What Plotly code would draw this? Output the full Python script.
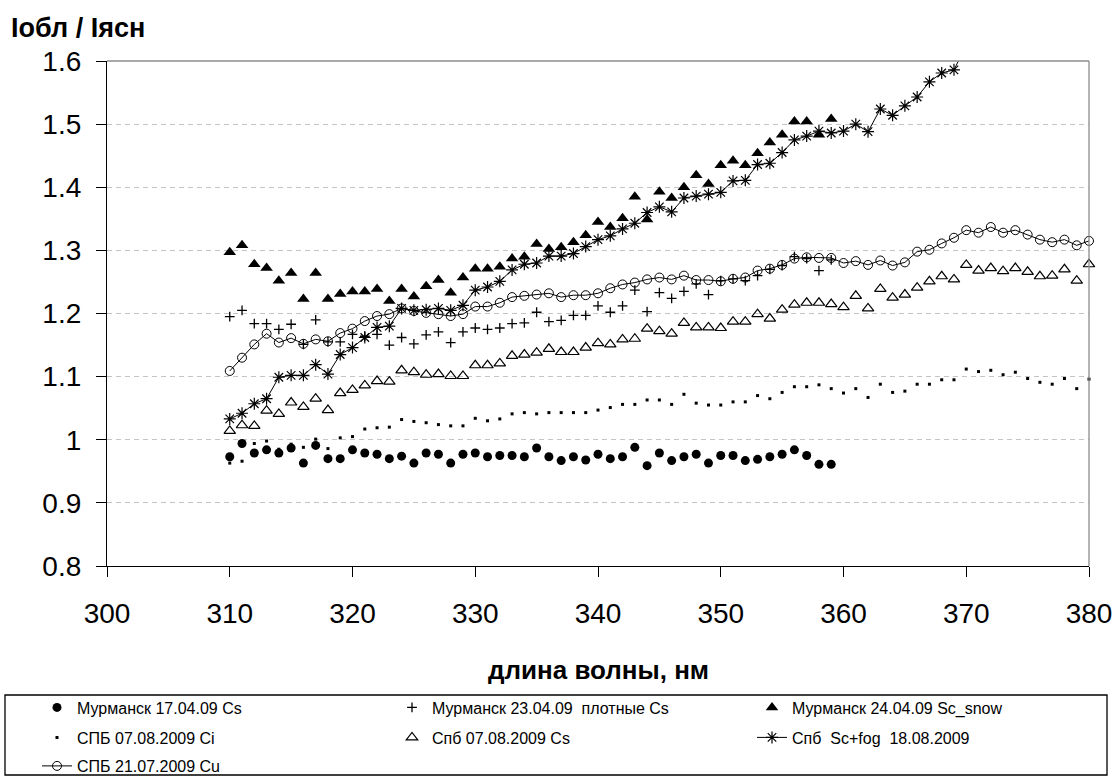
import plotly.graph_objects as go

# ---------------- data ----------------
wl_murm = [310, 311, 312, 313, 314, 315, 316, 317, 318, 319, 320, 321, 322, 323, 324,
           325, 326, 327, 328, 329, 330, 331, 332, 333, 334, 335, 336, 337, 338, 339,
           340, 341, 342, 343, 344, 345, 346, 347, 348, 349, 350, 351, 352, 353, 354,
           355, 356, 357, 358, 359]
wl_full = wl_murm + [360, 361, 362, 363, 364, 365, 366, 367, 368, 369, 370,
                     371, 372, 373, 374, 375, 376, 377, 378, 379, 380]
wl_fog = wl_murm + [360, 361, 362, 363, 364, 365, 366, 367, 368, 369, 370]

murm_1704_cs = [0.973, 0.994, 0.979, 0.984, 0.979, 0.987, 0.963, 0.991, 0.970, 0.970,
                0.984, 0.979, 0.977, 0.970, 0.974, 0.963, 0.979, 0.977, 0.963, 0.977,
                0.979, 0.973, 0.975, 0.975, 0.973, 0.987, 0.973, 0.967, 0.973, 0.968,
                0.977, 0.970, 0.973, 0.988, 0.959, 0.979, 0.967, 0.973, 0.977, 0.963,
                0.975, 0.975, 0.967, 0.969, 0.973, 0.977, 0.984, 0.975, 0.961, 0.961]

murm_2304_cs = [1.195, 1.205, 1.184, 1.184, 1.175, 1.183, 1.151, 1.190, 1.155, 1.155,
                1.167, 1.164, 1.167, 1.150, 1.162, 1.152, 1.166, 1.171, 1.154, 1.171,
                1.177, 1.175, 1.177, 1.184, 1.185, 1.202, 1.187, 1.189, 1.197, 1.197,
                1.212, 1.202, 1.212, 1.237, 1.203, 1.233, 1.224, 1.235, 1.247, 1.230,
                1.252, 1.255, 1.252, 1.260, 1.270, 1.276, 1.290, 1.287, 1.268, 1.285]

murm_2404_sc = [1.297, 1.308, 1.278, 1.272, 1.252, 1.264, 1.223, 1.264, 1.223, 1.231,
                1.235, 1.235, 1.239, 1.220, 1.239, 1.227, 1.243, 1.253, 1.233, 1.257,
                1.271, 1.271, 1.274, 1.287, 1.290, 1.310, 1.302, 1.305, 1.313, 1.324,
                1.345, 1.337, 1.351, 1.385, 1.349, 1.393, 1.383, 1.400, 1.419, 1.405,
                1.435, 1.442, 1.435, 1.454, 1.471, 1.483, 1.504, 1.504, 1.483, 1.508]

spb_0708_ci = [0.963, 0.966, 0.994, 0.998, 0.985, 0.993, 0.988, 1.001, 0.986, 1.003,
               1.005, 1.017, 1.019, 1.020, 1.032, 1.029, 1.027, 1.024, 1.022, 1.022,
               1.034, 1.030, 1.033, 1.041, 1.043, 1.041, 1.043, 1.043, 1.043, 1.043,
               1.047, 1.051, 1.056, 1.056, 1.063, 1.063, 1.056, 1.072, 1.058, 1.055,
               1.055, 1.060, 1.060, 1.070, 1.065, 1.075, 1.084, 1.084, 1.087, 1.081,
               1.074, 1.081, 1.067, 1.088, 1.075, 1.077, 1.088, 1.088, 1.095, 1.095,
               1.112, 1.108, 1.110, 1.103, 1.107, 1.097, 1.091, 1.088, 1.097, 1.081,
               1.096]

spb_0708_cs = [1.014, 1.023, 1.022, 1.046, 1.041, 1.059, 1.052, 1.065, 1.047, 1.074,
               1.079, 1.086, 1.093, 1.092, 1.110, 1.107, 1.103, 1.104, 1.101, 1.101,
               1.118, 1.118, 1.121, 1.133, 1.135, 1.138, 1.144, 1.139, 1.139, 1.146,
               1.153, 1.151, 1.159, 1.160, 1.176, 1.172, 1.168, 1.185, 1.178, 1.178,
               1.177, 1.187, 1.187, 1.199, 1.192, 1.206, 1.214, 1.217, 1.217, 1.215,
               1.210, 1.228, 1.208, 1.239, 1.225, 1.230, 1.241, 1.251, 1.259, 1.254,
               1.277, 1.268, 1.272, 1.267, 1.272, 1.266, 1.259, 1.260, 1.270, 1.252,
               1.278]

spb_1808_scfog = [1.033, 1.042, 1.057, 1.065, 1.099, 1.102, 1.102, 1.119, 1.104, 1.135,
                  1.146, 1.162, 1.178, 1.180, 1.208, 1.205, 1.206, 1.208, 1.205, 1.213,
                  1.237, 1.242, 1.251, 1.269, 1.278, 1.280, 1.291, 1.291, 1.295, 1.306,
                  1.317, 1.323, 1.334, 1.343, 1.360, 1.369, 1.361, 1.383, 1.386, 1.389,
                  1.392, 1.410, 1.411, 1.436, 1.438, 1.455, 1.475, 1.481, 1.489, 1.486,
                  1.489, 1.500, 1.488, 1.524, 1.514, 1.529, 1.543, 1.567, 1.581, 1.586,
                  1.625]

spb_2107_cu = [1.109, 1.130, 1.151, 1.168, 1.154, 1.161, 1.152, 1.159, 1.156, 1.169,
               1.176, 1.188, 1.196, 1.199, 1.208, 1.204, 1.201, 1.199, 1.196, 1.199,
               1.211, 1.211, 1.217, 1.226, 1.228, 1.230, 1.232, 1.226, 1.229, 1.229,
               1.232, 1.240, 1.246, 1.249, 1.254, 1.257, 1.254, 1.260, 1.253, 1.253,
               1.251, 1.255, 1.257, 1.268, 1.271, 1.277, 1.287, 1.289, 1.288, 1.288,
               1.280, 1.283, 1.277, 1.284, 1.276, 1.281, 1.298, 1.301, 1.311, 1.320,
               1.332, 1.328, 1.337, 1.328, 1.332, 1.325, 1.317, 1.313, 1.317, 1.308,
               1.315]

x_ticks = [300, 310, 320, 330, 340, 350, 360, 370, 380]
y_ticks = [0.8, 0.9, 1.0, 1.1, 1.2, 1.3, 1.4, 1.5, 1.6]
y_tick_labels = ["0.8", "0.9", "1", "1.1", "1.2", "1.3", "1.4", "1.5", "1.6"]

names = ["Мурманск 17.04.09 Cs", "Мурманск 23.04.09  плотные Cs",
         "Мурманск 24.04.09 Sc_snow", "СПБ 07.08.2009 Ci", "Спб 07.08.2009 Cs",
         "Спб  Sc+fog  18.08.2009", "СПБ 21.07.2009 Cu"]

FONT = "Arial, Liberation Sans, sans-serif"
BLACK = "#000000"

# page is 1115x776; the body margin is removed by a small post script
W, H = 1115, 776
# plot area in page pixels: left 107, right 1089, top 61, bottom 566
L, T = 107, 61
R = W - 1089
B = H - 566
pw, ph = W - L - R, H - T - B


def px_x(p):
    return (p - L) / pw


def px_y(p):
    return (H - B - p) / ph


fig = go.Figure()

fig.add_trace(go.Scatter(x=wl_murm, y=murm_1704_cs, mode="markers", name=names[0],
                         marker=dict(symbol="circle", size=9, color=BLACK),
                         legend="legend", cliponaxis=False))
fig.add_trace(go.Scatter(x=wl_murm, y=murm_2304_cs, mode="markers", name=names[1],
                         marker=dict(symbol="cross-thin", size=7,
                                     line=dict(color=BLACK, width=1.3)),
                         legend="legend2", cliponaxis=False))
fig.add_trace(go.Scatter(x=wl_murm, y=murm_2404_sc, mode="markers", name=names[2],
                         marker=dict(symbol="triangle-up", size=11, color=BLACK),
                         legend="legend3", cliponaxis=False))
fig.add_trace(go.Scatter(x=wl_full, y=spb_0708_ci, mode="markers", name=names[3],
                         marker=dict(symbol="square", size=3, color=BLACK),
                         legend="legend4", cliponaxis=False))
fig.add_trace(go.Scatter(x=wl_full, y=spb_0708_cs, mode="markers", name=names[4],
                         marker=dict(symbol="triangle-up-open", size=10, color=BLACK,
                                     line=dict(color=BLACK, width=1.2)),
                         legend="legend5", cliponaxis=False))
fig.add_trace(go.Scatter(x=wl_fog, y=spb_1808_scfog, mode="lines+markers", name=names[5],
                         line=dict(color=BLACK, width=1),
                         marker=dict(symbol="asterisk-open", size=10, color=BLACK,
                                     line=dict(color=BLACK, width=1.2)),
                         legend="legend6", cliponaxis=True))
fig.add_trace(go.Scatter(x=wl_full, y=spb_2107_cu, mode="lines+markers", name=names[6],
                         line=dict(color=BLACK, width=1),
                         marker=dict(symbol="circle-open", size=9, color=BLACK,
                                     line=dict(color=BLACK, width=1)),
                         legend="legend7", cliponaxis=False))

col_x = [37, 392, 752]
row_y = [707.5, 737.5, 766]
leg_pos = [(0, 0), (1, 0), (2, 0), (0, 1), (1, 1), (2, 1), (0, 2)]


def leg(ci, ri):
    return dict(orientation="v", xanchor="left", yanchor="middle",
                x=px_x(col_x[ci]), y=px_y(row_y[ri]),
                font=dict(family=FONT, size=16, color=BLACK),
                bgcolor="rgba(0,0,0,0)", borderwidth=0)


legends = {}
for i, (ci, ri) in enumerate(leg_pos):
    key = "legend" if i == 0 else "legend%d" % (i + 1)
    legends[key] = leg(ci, ri)

fig.update_layout(
    width=W, height=H,
    margin=dict(l=L, r=R, t=T, b=B, pad=0, autoexpand=False),
    paper_bgcolor="white", plot_bgcolor="white",
    font=dict(family=FONT, color=BLACK),
    showlegend=True,
    **legends,
    xaxis=dict(range=[300, 380], tickvals=x_ticks, ticktext=[str(v) for v in x_ticks],
               showgrid=False, zeroline=False, showline=True, linecolor=BLACK,
               linewidth=1.3, ticks="outside", ticklen=10, tickcolor=BLACK,
               tickwidth=1.3, ticklabelstandoff=12, automargin=False,
               tickfont=dict(family=FONT, size=28, color=BLACK)),
    yaxis=dict(range=[0.8, 1.6], tickvals=y_ticks, ticktext=y_tick_labels,
               showgrid=True, gridcolor="#c4c4c4", griddash="5px,4px", gridwidth=1,
               zeroline=False, showline=True, linecolor=BLACK, linewidth=1.3,
               ticks="outside", ticklen=10, tickcolor=BLACK, tickwidth=1.3,
               ticklabelstandoff=9, automargin=False,
               tickfont=dict(family=FONT, size=28, color=BLACK)),
    shapes=[
        dict(type="line", xref="paper", yref="paper", x0=0, x1=1, y0=1, y1=1,
             line=dict(color="#8c8c8c", width=1.3)),
        dict(type="line", xref="paper", yref="paper", x0=1, x1=1, y0=0, y1=1,
             line=dict(color="#8c8c8c", width=1.3)),
        dict(type="rect", xref="paper", yref="paper",
             x0=px_x(5), x1=px_x(1107), y0=px_y(775), y1=px_y(695),
             line=dict(color=BLACK, width=1.3), fillcolor="rgba(0,0,0,0)"),
    ],
    annotations=[
        dict(text="<b>Iобл / Iясн</b>", xref="paper", yref="paper",
             x=px_x(9), y=px_y(28), xanchor="left", yanchor="middle",
             showarrow=False, font=dict(family=FONT, size=27, color=BLACK)),
        dict(text="<b>длина волны, нм</b>", xref="paper", yref="paper",
             x=0.5, y=px_y(670), xanchor="center", yanchor="middle",
             showarrow=False, font=dict(family=FONT, size=26, color=BLACK)),
    ],
)

fig.write_html("out.html",
               config={"displayModeBar": False},
               post_script="document.body.style.margin='0px';"
                           "document.body.style.overflow='hidden';")
